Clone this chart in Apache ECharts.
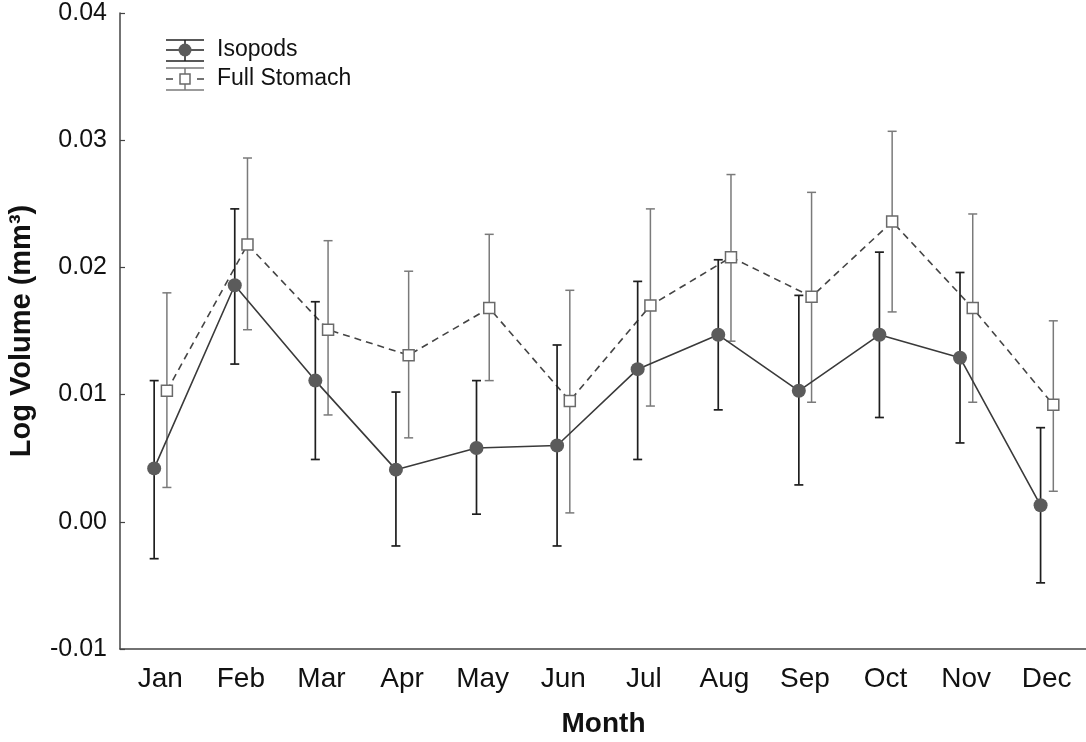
<!DOCTYPE html>
<html>
<head>
<meta charset="utf-8">
<script src="https://cdn.jsdelivr.net/npm/echarts@6/dist/echarts.min.js"></script>
<style>
  html, body { margin: 0; padding: 0; background: #fff; }
  #chart { width: 1086px; height: 742px; }
</style>
</head>
<body>
<div id="chart"></div>
<script>
// Monthly log volumes (mean with upper/lower error limits)
const months = ['Jan', 'Feb', 'Mar', 'Apr', 'May', 'Jun', 'Jul', 'Aug', 'Sep', 'Oct', 'Nov', 'Dec'];

const isopodMean = [0.0042, 0.0186, 0.0111, 0.0041, 0.0058, 0.0060, 0.0120, 0.0147, 0.0103, 0.0147, 0.0129, 0.0013];
const isopodHigh = [0.0111, 0.0246, 0.0173, 0.0102, 0.0111, 0.0139, 0.0189, 0.0206, 0.0178, 0.0212, 0.0196, 0.0074];
const isopodLow  = [-0.0029, 0.0124, 0.0049, -0.0019, 0.0006, -0.0019, 0.0049, 0.0088, 0.0029, 0.0082, 0.0062, -0.0048];

const stomachMean = [0.0103, 0.0218, 0.0151, 0.0131, 0.0168, 0.0095, 0.0170, 0.0208, 0.0177, 0.0236, 0.0168, 0.0092];
const stomachHigh = [0.0180, 0.0286, 0.0221, 0.0197, 0.0226, 0.0182, 0.0246, 0.0273, 0.0259, 0.0307, 0.0242, 0.0158];
const stomachLow  = [0.0027, 0.0151, 0.0084, 0.0066, 0.0111, 0.0007, 0.0091, 0.0142, 0.0094, 0.0165, 0.0094, 0.0024];

const yTicks = [-0.01, 0.00, 0.01, 0.02, 0.03, 0.04];

// Horizontal dodge of the two series around each month (in category units)
const ISO_SHIFT = -0.076;
const STO_SHIFT = 0.082;

const FONT = '"Liberation Sans", Arial, Helvetica, sans-serif';

function pts(mean, shift) {
  return mean.map((v, i) => [i + shift, v]);
}
function bars(hi, lo, shift) {
  return hi.map((h, i) => [i + shift, h, lo[i]]);
}
function errorBarRenderer(color, width) {
  return function (params, api) {
    const x = api.value(0);
    const top = api.coord([x, api.value(1)]);
    const bot = api.coord([x, api.value(2)]);
    const cap = 4.5;
    const style = { stroke: color, lineWidth: width };
    return {
      type: 'group',
      children: [
        { type: 'line', shape: { x1: top[0], y1: top[1], x2: bot[0], y2: bot[1] }, style },
        { type: 'line', shape: { x1: top[0] - cap, y1: top[1], x2: top[0] + cap, y2: top[1] }, style },
        { type: 'line', shape: { x1: bot[0] - cap, y1: bot[1], x2: bot[0] + cap, y2: bot[1] }, style }
      ]
    };
  };
}

const chart = echarts.init(document.getElementById('chart'), null, { renderer: 'canvas' });

const isoColor = '#5b5b5b';
const isoBar = '#1e1e1e';
const stoColor = '#444';
const stoBar = '#7a7a7a';

chart.setOption({
  animation: false,
  backgroundColor: '#fff',
  textStyle: { fontFamily: FONT },
  grid: { left: 120, top: 13, right: -1, bottom: 93, outerBoundsMode: 'none', containLabel: false },
  xAxis: [
    {
      type: 'category',
      data: months,
      boundaryGap: true,
      axisLine: { onZero: false, lineStyle: { color: '#444', width: 1.5 } },
      axisTick: { alignWithLabel: true, inside: true, length: 5, lineStyle: { color: '#444', width: 1.2 } },
      axisLabel: { color: '#111', fontSize: 28, margin: 16, fontFamily: FONT },
      name: 'Month',
      nameLocation: 'middle',
      nameGap: 61,
      nameTextStyle: { color: '#111', fontSize: 28, fontWeight: 'bold', fontFamily: FONT },
      splitLine: { show: false }
    },
    {
      type: 'value',
      min: -0.5,
      max: 11.5,
      show: false
    }
  ],
  yAxis: {
    type: 'value',
    min: yTicks[0],
    max: yTicks[yTicks.length - 1],
    interval: 0.01,
    axisLine: { show: true, onZero: false, lineStyle: { color: '#444', width: 1.5 } },
    axisTick: { show: true, inside: true, length: 5, lineStyle: { color: '#444', width: 1.2 } },
    axisLabel: {
      color: '#111', fontSize: 25, margin: 13, fontFamily: FONT,
      formatter: v => v.toFixed(2)
    },
    splitLine: { show: false },
    name: 'Log Volume (mm³)',
    nameLocation: 'middle',
    nameRotate: 90,
    nameGap: 84,
    nameTextStyle: { color: '#111', fontSize: 29, fontWeight: 'bold', fontFamily: FONT }
  },
  series: [
    {
      name: 'Full Stomach bars',
      type: 'custom',
      xAxisIndex: 1,
      z: 1,
      renderItem: errorBarRenderer(stoBar, 1.5),
      data: bars(stomachHigh, stomachLow, STO_SHIFT)
    },
    {
      name: 'Full Stomach',
      type: 'line',
      xAxisIndex: 1,
      z: 2,
      data: pts(stomachMean, STO_SHIFT),
      symbol: 'rect',
      symbolSize: 11,
      showAllSymbol: true,
      lineStyle: { color: stoColor, width: 1.6, type: [7, 5] },
      itemStyle: { color: '#fff', borderColor: '#6a6a6a', borderWidth: 1.5 }
    },
    {
      name: 'Isopods bars',
      type: 'custom',
      xAxisIndex: 1,
      z: 3,
      renderItem: errorBarRenderer(isoBar, 1.7),
      data: bars(isopodHigh, isopodLow, ISO_SHIFT)
    },
    {
      name: 'Isopods',
      type: 'line',
      xAxisIndex: 1,
      z: 4,
      data: pts(isopodMean, ISO_SHIFT),
      symbol: 'circle',
      symbolSize: 14,
      showAllSymbol: true,
      lineStyle: { color: '#3a3a3a', width: 1.6 },
      itemStyle: { color: isoColor, borderWidth: 0 }
    }
  ],
  graphic: [
    // Legend: Isopods
    { type: 'line', shape: { x1: 166, y1: 40, x2: 204, y2: 40 }, style: { stroke: '#222', lineWidth: 1.5 } },
    { type: 'line', shape: { x1: 166, y1: 50, x2: 204, y2: 50 }, style: { stroke: '#222', lineWidth: 1.5 } },
    { type: 'line', shape: { x1: 166, y1: 61, x2: 204, y2: 61 }, style: { stroke: '#222', lineWidth: 1.5 } },
    { type: 'line', shape: { x1: 185, y1: 40, x2: 185, y2: 61 }, style: { stroke: '#222', lineWidth: 1.5 } },
    { type: 'circle', shape: { cx: 185, cy: 50, r: 6.5 }, style: { fill: isoColor } },
    { type: 'text', x: 217, y: 50, style: { text: 'Isopods', font: '23px ' + FONT, fill: '#111', verticalAlign: 'middle' } },
    // Legend: Full Stomach
    { type: 'line', shape: { x1: 166, y1: 68, x2: 204, y2: 68 }, style: { stroke: stoBar, lineWidth: 1.5 } },
    { type: 'line', shape: { x1: 166, y1: 90, x2: 204, y2: 90 }, style: { stroke: stoBar, lineWidth: 1.5 } },
    { type: 'line', shape: { x1: 185, y1: 68, x2: 185, y2: 90 }, style: { stroke: stoBar, lineWidth: 1.5 } },
    { type: 'line', shape: { x1: 166, y1: 79, x2: 173, y2: 79 }, style: { stroke: stoColor, lineWidth: 1.5 } },
    { type: 'line', shape: { x1: 197, y1: 79, x2: 204, y2: 79 }, style: { stroke: stoColor, lineWidth: 1.5 } },
    { type: 'rect', shape: { x: 180, y: 74, width: 10, height: 10 }, style: { fill: '#fff', stroke: '#6a6a6a', lineWidth: 1.5 } },
    { type: 'text', x: 217, y: 79, style: { text: 'Full Stomach', font: '23px ' + FONT, fill: '#111', verticalAlign: 'middle' } }
  ]
});
</script>
</body>
</html>
